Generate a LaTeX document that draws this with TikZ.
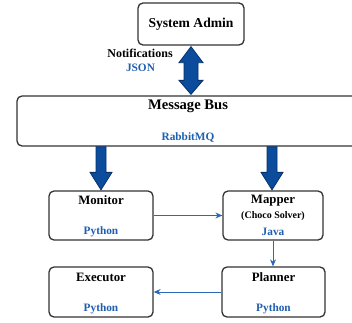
\documentclass[tikz,border=0pt]{standalone}
\usepackage{fontspec}
\setmainfont{Liberation Serif}
\usetikzlibrary{arrows.meta,calc}
\definecolor{bigblue}{HTML}{0B4C9C}
\definecolor{bigedge}{HTML}{08306A}
\definecolor{txtblue}{HTML}{1F5FB0}
\definecolor{lineblue}{HTML}{2A69B8}
\definecolor{boxedge}{HTML}{333333}
\tikzset{
  box/.style={draw=boxedge, line width=1.3pt, rounded corners=5pt, fill=white, inner sep=0pt},
  title/.style={font=\bfseries\fontsize{12.8}{14}\selectfont, inner sep=0pt},
  lang/.style={font=\bfseries\fontsize{11.3}{13}\selectfont, text=txtblue, inner sep=0pt},
  bigarrow/.style={fill=bigblue, draw=bigedge, line width=0.8pt, line join=miter},
  thin/.style={draw=lineblue, line width=1pt, -{Stealth[length=7pt,width=6pt]}}
}
\begin{document}
\begin{tikzpicture}[x=1pt,y=1pt]
\useasboundingbox (0,0) rectangle (352,322);
\clip (0,0) rectangle (352,322);
% boxes
\node[box, minimum width=106pt, minimum height=42pt,
      font=\bfseries\fontsize{13.6}{15}\selectfont] (admin) at (191,298) {System Admin};
\node[box, minimum width=355pt, minimum height=50pt] (bus) at (194.5,201) {};
\node[box, minimum width=104pt, minimum height=49pt] (monitor) at (101,106.5) {};
\node[box, minimum width=100pt, minimum height=49pt] (mapper) at (273,106.5) {};
\node[box, minimum width=104pt, minimum height=50pt] (executor) at (101,30) {};
\node[box, minimum width=103pt, minimum height=50pt] (planner) at (273.5,30) {};
% texts
\node[font=\bfseries\fontsize{14.6}{16}\selectfont, inner sep=0pt] (bustitle) at (188,216) {Message Bus};
\node[lang] (buslang) at (188,185) {RabbitMQ};
\node[font=\bfseries\fontsize{12}{14}\selectfont, inner sep=0pt] (notif) at (140,269) {Notifications};
\node[lang] (json) at (140.5,254) {JSON};
\node[title] (montitle) at ($(monitor.north)+(0,-10)$) {Monitor};
\node[lang] (monlang) at ($(monitor.south)+(0,9)$) {Python};
\node[title] (maptitle) at ($(mapper.north)+(0,-10)$) {Mapper};
\node[font=\bfseries\fontsize{10}{12}\selectfont, inner sep=0pt] (choco) at ($(mapper.north)+(0,-26)$) {(Choco Solver)};
\node[lang] (maplang) at ($(mapper.south)+(0,9)$) {Java};
\node[title] (exetitle) at ($(executor.north)+(0,-11)$) {Executor};
\node[lang] (exelang) at ($(executor.south)+(0,9)$) {Python};
\node[title] (plantitle) at ($(planner.north)+(0,-11)$) {Planner};
\node[lang] (planlang) at ($(planner.south)+(0,9)$) {Python};
% double arrow admin <-> bus
\coordinate (da1) at ($(admin.south)+(0,-1)$);
\coordinate (da2) at ($(bus.north)+(-4,1)$);
\draw[bigarrow] let \p1=(da1), \p2=(da2) in
  (\x1,\y1) -- (\x1+12,\y1-16) -- (\x1+7,\y1-16) -- (\x1+7,\y2+14) -- (\x1+12,\y2+14)
  -- (\x1,\y2) -- (\x1-12,\y2+14) -- (\x1-7,\y2+14) -- (\x1-7,\y1-16) -- (\x1-12,\y1-16) -- cycle;
% down arrows bus -> monitor, bus -> mapper
\foreach \tgt/\dx in {monitor/0, mapper/-1} {
  \draw[bigarrow] let \p1=($(\tgt.north)+(\dx,0)$), \p2=(bus.south) in
    (\x1-5,\y2) -- (\x1+5,\y2) -- (\x1+5,\y1+18) -- (\x1+11,\y1+18) -- (\x1,\y1+0.5)
    -- (\x1-11,\y1+18) -- (\x1-5,\y1+18) -- cycle;
}
% thin arrows
\draw[thin] (monitor.east) -- (mapper.west);
\draw[thin] (mapper.south) -- (planner.north -| mapper.south);
\draw[thin] (planner.west) -- (executor.east);
\end{tikzpicture}
\end{document}
